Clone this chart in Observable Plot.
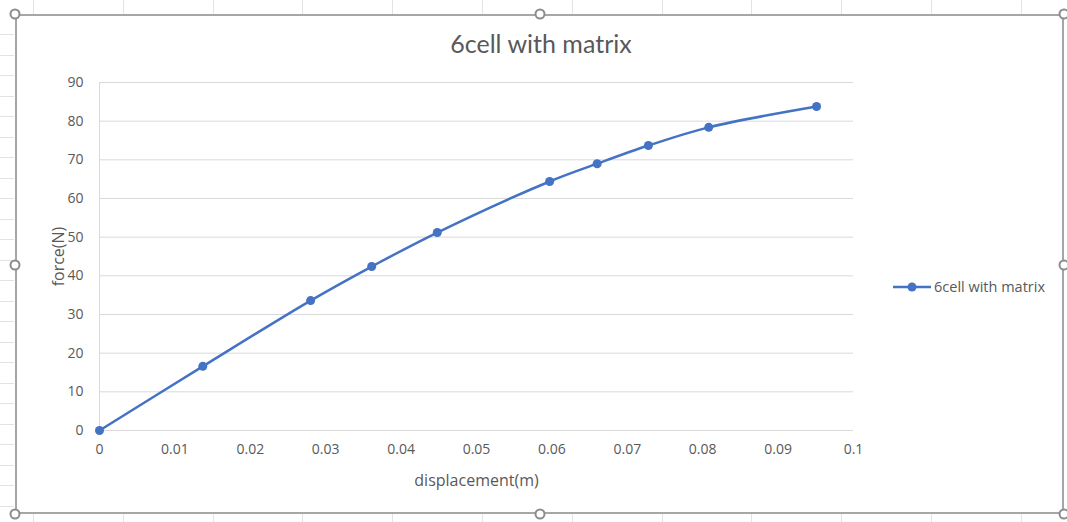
<!DOCTYPE html>
<html>
<head>
<meta charset="utf-8">
<script src="https://cdn.jsdelivr.net/npm/d3@7"></script>
<script src="https://cdn.jsdelivr.net/npm/@observablehq/plot@0.6"></script>
<style>
  html, body { margin: 0; padding: 0; background: #fff; }
  #wrap { position: relative; width: 1067px; height: 522px; overflow: hidden; font-family: Lato, "Open Sans", sans-serif; }
  #chart { position: absolute; left: 0; top: 0; }
  .title { position: absolute; left: 0; width: 1082px; top: 28px; line-height: 30px; text-align: center; font-size: 25px; color: #595959; }
  .legend { position: absolute; left: 893px; top: 277px; display: flex; align-items: center; font-family: "Open Sans", sans-serif; font-size: 14.5px; color: #595959; }
  .legend svg { margin-right: 3px; }
  .frame { position: absolute; left: 15px; top: 14px; width: 1049px; height: 500px; border: 2px solid #a6a6a6; box-sizing: border-box; }
  .handle { position: absolute; width: 11px; height: 11px; border: 2px solid #8c8c8c; border-radius: 50%; background: #fff; box-sizing: border-box; transform: translate(-50%, -50%); }
  .col { position: absolute; width: 1px; background: #e3e3e3; }
  .row { position: absolute; height: 1px; background: #e3e3e3; }
</style>
</head>
<body>
<div id="wrap"></div>
<script>
// Force–displacement readings for the 6-cell specimen with matrix
const seriesName = "6cell with matrix";
const displacement = [0, 0.0137, 0.028, 0.0361, 0.0448, 0.0597, 0.066, 0.0728, 0.0808, 0.0951];
const force = [0, 16.6, 33.6, 42.4, 51.2, 64.4, 69.0, 73.7, 78.4, 83.8];
const xTicks = [0, 0.01, 0.02, 0.03, 0.04, 0.05, 0.06, 0.07, 0.08, 0.09, 0.1];
const yTicks = [0, 10, 20, 30, 40, 50, 60, 70, 80, 90];

const data = displacement.map((d, i) => ({displacement: d, force: force[i]}));
const blue = "#4472C4";
const grey = "#595959";
const sans = "'Open Sans', sans-serif";

const wrap = document.getElementById("wrap");

// worksheet grid visible around the chart object
for (let x = 33; x < 1067; x += 89.8) {
  const t = document.createElement("div");
  t.className = "col"; t.style.left = x + "px"; t.style.top = "0px"; t.style.height = "14px";
  wrap.appendChild(t);
  const b = document.createElement("div");
  b.className = "col"; b.style.left = x + "px"; b.style.top = "514px"; b.style.height = "8px";
  wrap.appendChild(b);
}
for (let y = 34; y < 522; y += 20.5) {
  const l = document.createElement("div");
  l.className = "row"; l.style.left = "0px"; l.style.top = y + "px"; l.style.width = "14px";
  wrap.appendChild(l);
}

const fmt = d => String(+d.toFixed(2));

const plot = Plot.plot({
  width: 1067,
  height: 522,
  marginLeft: 99,
  marginRight: 214,
  marginTop: 82,
  marginBottom: 92,
  style: {fontFamily: sans, fontSize: "14px", color: grey, background: "transparent"},
  x: {domain: [0, 0.1]},
  y: {domain: [0, 90]},
  marks: [
    Plot.gridY(yTicks, {stroke: "#d9d9d9", strokeOpacity: 1, strokeWidth: 1}),
    Plot.ruleX([0], {stroke: "#d9d9d9", strokeWidth: 1}),
    Plot.axisX({ticks: xTicks, tickSize: 0, tickPadding: 14, tickFormat: fmt, fill: grey, label: null, fontSize: 14}),
    Plot.axisY({ticks: yTicks, tickSize: 0, tickPadding: 16, fill: grey, label: null, fontSize: 14}),
    Plot.axisX({ticks: [], label: "displacement(m)", labelAnchor: "center", labelOffset: 55, labelArrow: "none", fill: grey, fontSize: 16}),
    Plot.axisY({ticks: [], label: "force(N)", labelAnchor: "center", labelOffset: 47, labelArrow: "none", fill: grey, fontSize: 16}),
    Plot.line(data, {x: "displacement", y: "force", stroke: blue, strokeWidth: 2.5, curve: "catmull-rom"}),
    Plot.dot(data, {x: "displacement", y: "force", r: 4.5, fill: blue, stroke: "none"})
  ]
});
plot.id = "chart";
wrap.appendChild(plot);

const frame = document.createElement("div");
frame.className = "frame";
wrap.appendChild(frame);

const title = document.createElement("div");
title.className = "title";
title.textContent = seriesName;
wrap.appendChild(title);

const legend = document.createElement("div");
legend.className = "legend";
legend.innerHTML = `<svg width="38" height="12"><line x1="0" y1="6" x2="38" y2="6" stroke="${blue}" stroke-width="2.5"/><circle cx="19" cy="6" r="4.5" fill="${blue}"/></svg><span>${seriesName}</span>`;
wrap.appendChild(legend);

[[15,14],[540,14],[1064,14],[15,265],[1064,265],[15,514],[540,514],[1064,514]].forEach(([x, y]) => {
  const h = document.createElement("div");
  h.className = "handle"; h.style.left = x + "px"; h.style.top = y + "px";
  wrap.appendChild(h);
});
</script>
</body>
</html>
